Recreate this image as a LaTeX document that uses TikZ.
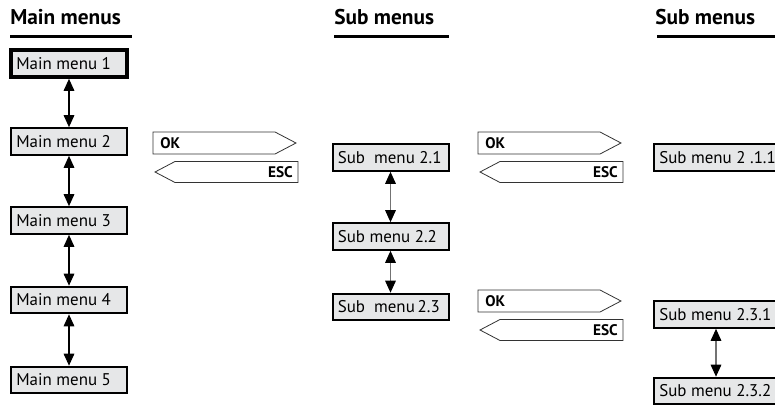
\documentclass[tikz,border=0pt]{standalone}
\usepackage{fontspec}
\setmainfont{PT Sans}
\usetikzlibrary{arrows.meta}
\definecolor{boxgray}{HTML}{E6E7E8}
\newcommand{\boxlabel}[2][79pt]{\makebox[#1][l]{#2}}
\tikzset{
  menubox/.style={draw,fill=boxgray,line width=1.5pt,minimum height=20pt,
    inner xsep=4pt,inner ysep=0pt,font=\fontsize{12.7}{15}\selectfont},
  headline/.style={anchor=west,inner sep=0pt,font=\fontsize{16}{18}\selectfont\bfseries},
  keytext/.style={inner sep=0pt,font=\fontsize{11.5}{14}\selectfont\bfseries},
  keyshape/.style={draw=black!80,fill=white,line width=0.6pt},
  updown/.style={{Triangle[length=9pt,width=8pt,color=black]}-{Triangle[length=9pt,width=8pt,color=black]},line width=0.8pt},
}
\begin{document}
\begin{tikzpicture}[x=0.75pt,y=-0.75pt]
        \useasboundingbox (0,0) rectangle (775,407);
        \clip (0,0) rectangle (775,407);
        %% Headings
        \node[headline] (mainhead) at (10,17) {Main menus};
        \node[headline] (subhead) at (334,17) {Sub menus};
        \node[headline] (subsubhead) at (655,17) {Sub menus};
        \draw[line width=2.25pt] (10,36) -- (132,36);
        \draw[line width=2.25pt] (334,36) -- (449,36);
        \draw[line width=2.25pt] (657,36) -- (780,36);
        %% Main menus
        \node[menubox,line width=3pt] (mm1) at (69,63.5) {\boxlabel{Main menu 1}};
        \node[menubox] (mm2) at (69,141.5) {\boxlabel{Main menu 2}};
        \node[menubox] (mm3) at (69,220.5) {\boxlabel{Main menu 3}};
        \node[menubox] (mm4) at (69,300) {\boxlabel{Main menu 4}};
        \node[menubox] (mm5) at (69,380) {\boxlabel{Main menu 5}};
        \foreach \a/\b in {mm1/mm2,mm2/mm3,mm3/mm4,mm4/mm5}
            \draw[updown] (\a) -- (\b);
        %% Sub menus
        \node[menubox] (sm21) at (390.5,157.5) {\boxlabel{Sub~~menu 2.1}};
        \node[menubox] (sm22) at (390.5,236.5) {\boxlabel{Sub menu 2.2}};
        \node[menubox] (sm23) at (390.5,307) {\boxlabel{Sub~~menu\,2.3}};
        \draw[updown,draw=black!55] (sm21) -- (sm22);
        \draw[updown,draw=black!55] (sm22) -- (sm23);
        %% Sub sub menus
        \node[menubox] (sm211) at (716,157.5) {\boxlabel[85pt]{Sub menu 2 .1.1}};
        \node[menubox] (sm231) at (716,314.5) {\boxlabel[85pt]{Sub menu 2.3.1}};
        \node[menubox] (sm232) at (716,391) {\boxlabel[85pt]{Sub menu 2.3.2}};
        \draw[updown,draw=black!55] (sm231) -- (sm232);
        %% OK / ESC keys
        \foreach \x/\y/\n in {153/132/a,478/132/b,478/290/c}{
            \draw[keyshape] (\x,\y) -- ++(122,0) -- ++(21,11) -- ++(-21,11) -- ++(-122,0) -- cycle;
            \draw[keyshape] (\x+2,\y+40) -- ++(20,-10.5) -- ++(123,0) -- ++(0,21) -- ++(-123,0) -- cycle;
            \node[keytext,anchor=west] (ok\n) at (\x+7,\y+11) {OK};
            \node[keytext,anchor=east] (esc\n) at (\x+140,\y+40.5) {ESC};
        }
\end{tikzpicture}
\end{document}
